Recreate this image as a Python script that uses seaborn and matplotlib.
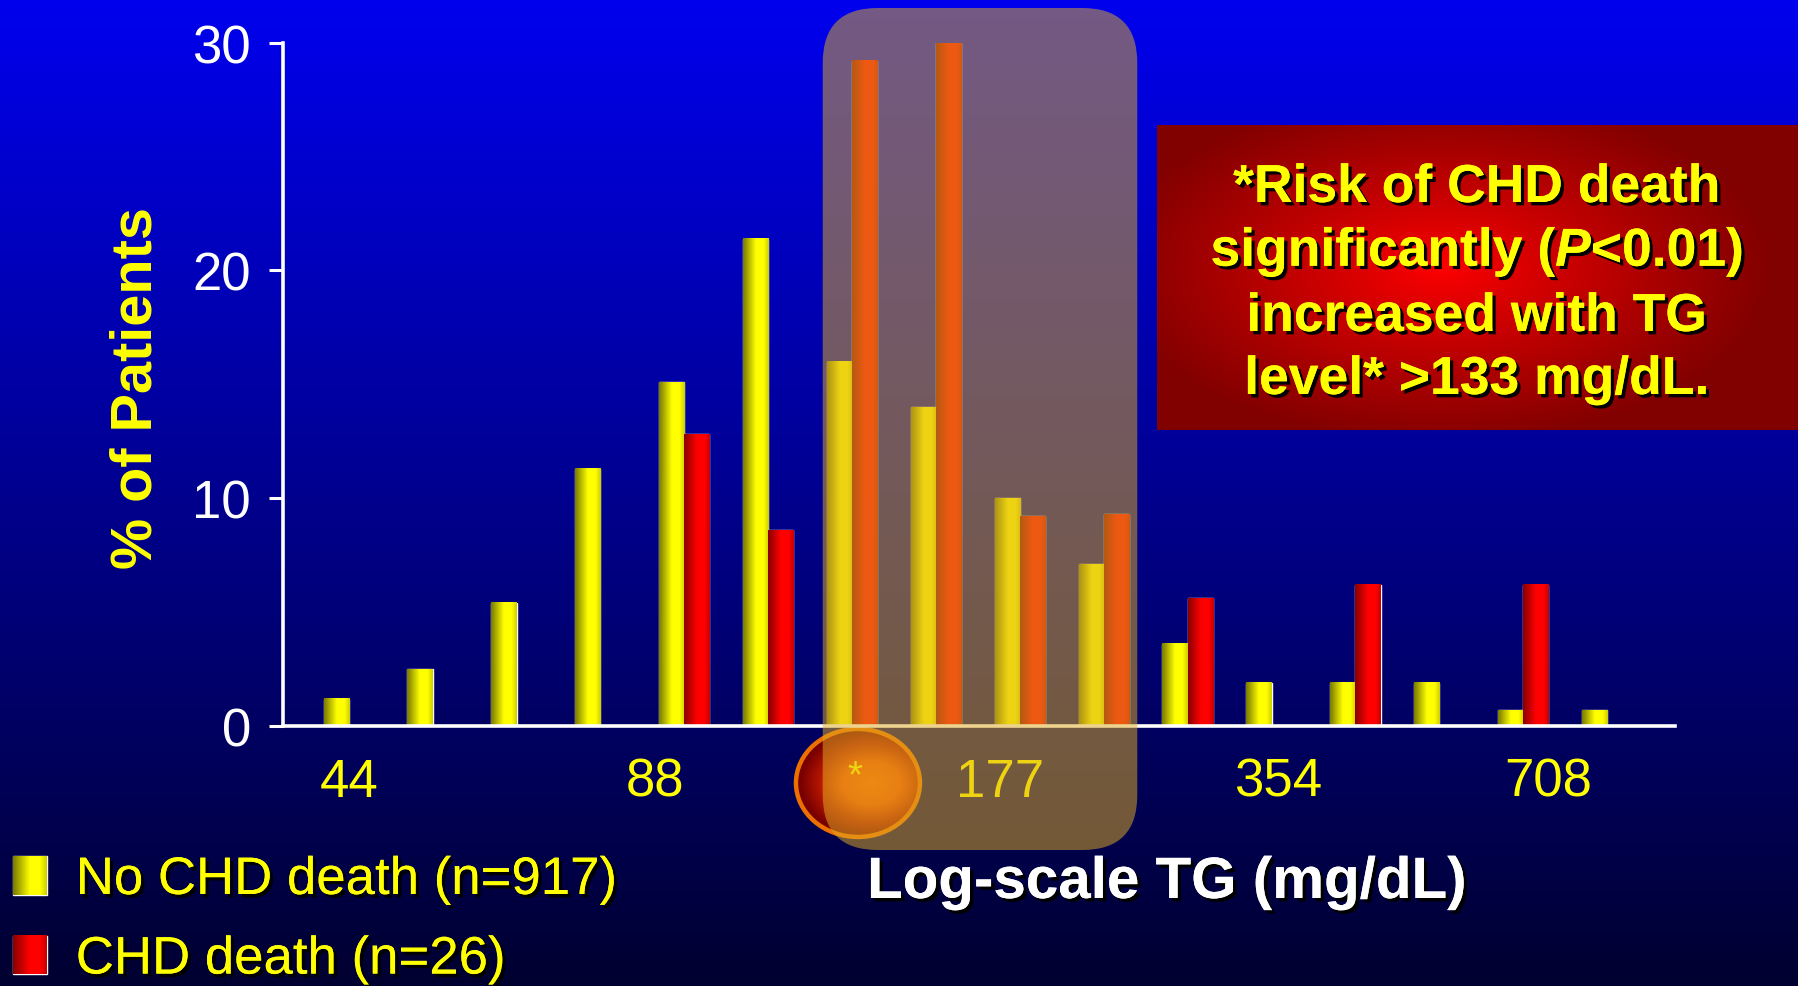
import numpy as np
import pandas as pd
import seaborn as sns
import matplotlib.pyplot as plt
import matplotlib.patheffects as pe
from matplotlib.patches import FancyBboxPatch, Ellipse
from matplotlib.colors import LinearSegmentedColormap

# ---------------------------------------------------------------- data
tg_bins = list(range(16))
no_chd_death = [1.2, 2.5, 5.4, 11.3, 15.1, 21.4, 16.0, 14.0, 10.0, 7.1, 3.6, 1.9, 1.9, 1.9, 0.7, 0.7]
chd_death = [0, 0, 0, 0, 12.8, 8.6, 29.2, 30.0, 9.2, 9.3, 5.6, 0, 6.2, 0, 6.2, 0]
series_labels = ["No CHD death (n=917)", "CHD death (n=26)"]
tick_labels = ["44", "88", "177", "354", "708"]
y_ticks = [0, 10, 20, 30]
highlight_bins = [6, 9]
note_lines = ["*Risk of CHD death",
              r"significantly ($\mathit{P}$<0.01)",
              "increased with TG",
              "level* >133 mg/dL."]

# ---------------------------------------------------------------- layout
W, H = 1799, 987
AX_L, AX_R, AX_B, AX_T = 283, 1675, 727, 43.6
XLIM = (-0.784, 15.81)
TICK_POS = [0.0, 3.65, 7.77, 11.08, 14.3]

sns.set_theme(style="ticks")
plt.rcParams["font.family"] = ["Liberation Sans", "DejaVu Sans"]
plt.rcParams["mathtext.fontset"] = "custom"
plt.rcParams["mathtext.it"] = "Liberation Sans:italic:bold"
plt.rcParams["mathtext.rm"] = "Liberation Sans:bold"

shadow = [pe.withSimplePatchShadow(offset=(2.4, -2.4), shadow_rgbFace="black", alpha=1.0),
          pe.Normal()]

fig = plt.figure(figsize=(W / 100, H / 100), dpi=100)
fig.patch.set_facecolor("#000030")

# vertical blue background
bg = fig.add_axes([0, 0, 1, 1], zorder=0)
t = np.linspace(0, 1, 256)[:, None, None]
top_c = np.array([0, 0, 238]) / 255
bot_c = np.array([0, 0, 48]) / 255
bg.imshow(top_c + (bot_c - top_c) * t, aspect="auto", extent=[0, 1, 0, 1], origin="upper")
bg.set_axis_off()

# main plotting axes
ax = fig.add_axes([AX_L / W, 1 - AX_B / H, (AX_R - AX_L) / W, (AX_B - AX_T) / H], zorder=1)
ax.set_facecolor("none")

df = pd.DataFrame({
    "bin": tg_bins * 2,
    "group": [series_labels[0]] * len(tg_bins) + [series_labels[1]] * len(tg_bins),
    "pct": no_chd_death + chd_death,
})
sns.barplot(data=df, x="bin", y="pct", hue="group", hue_order=series_labels,
            palette=["#FFFF00", "#FF0000"], width=0.6, gap=0, saturation=1,
            errorbar=None, ax=ax)

# cylinder-like shading on each bar
yellow_cmap = LinearSegmentedColormap.from_list(
    "yel", [(0, "#7A7A00"), (0.5, "#FFFF00"), (0.8, "#FFFF00"), (1, "#CFCF00")])
red_cmap = LinearSegmentedColormap.from_list(
    "red", [(0, "#8A0000"), (0.5, "#FF0000"), (0.8, "#FF0000"), (1, "#C80000")])
row = np.linspace(0, 1, 64)[None, :]
for bar in list(ax.patches):
    h = bar.get_height()
    if h <= 0:
        continue
    x0, w = bar.get_x(), bar.get_width()
    cmap = yellow_cmap if bar.get_facecolor()[1] > 0.5 else red_cmap
    ax.imshow(row, cmap=cmap, extent=[x0, x0 + w, 0, h], aspect="auto",
              interpolation="bilinear", zorder=1.2)

ax.set_xlim(*XLIM)
ax.set_ylim(0, 30)
px_x = (AX_R - AX_L) / (XLIM[1] - XLIM[0])
px_y = (AX_B - AX_T) / 30

# highlighted ellipse marker below the axis
ecx, ecy = 6.07, -2.5
ew, eh = 124 / px_x, 108 / px_y
ell = Ellipse((ecx, ecy), ew, eh, facecolor="none", edgecolor="#EC7000", lw=3.2,
              zorder=1.6, clip_on=False)
ax.add_patch(ell)
yy, xx = np.mgrid[-1:1:200j, -1:1:200j]
rr = np.clip(np.sqrt(((xx - 0.22) / 1.15) ** 2 + yy ** 2), 0, 1)
ell_cmap = LinearSegmentedColormap.from_list(
    "ell", [(0, "#FF6400"), (0.4, "#F25000"), (0.75, "#B01400"), (1, "#780000")])
eim = ax.imshow(rr, cmap=ell_cmap, vmin=0, vmax=1,
                extent=[ecx - ew / 2, ecx + ew / 2, ecy - eh / 2, ecy + eh / 2],
                aspect="auto", zorder=1.5, interpolation="bilinear")
eim.set_clip_box(fig.bbox)
eim.set_clip_path(ell)
ax.text(ecx - 0.03, ecy + 0.3, "*", color="#FFFF00", fontsize=28, ha="center",
        va="center", zorder=1.7, clip_on=False)

# translucent band over the highlighted bins
hx0 = highlight_bins[0] - 0.3 - 0.05
hx1 = highlight_bins[1] + 0.3 + 0.1
hy0 = -(851 - AX_B) / px_y
hy1 = 30 + (AX_T - 9) / px_y
band = FancyBboxPatch((hx0, hy0), hx1 - hx0, hy1 - hy0,
                      boxstyle=f"round,pad=0,rounding_size={55 / px_x:.4f}",
                      mutation_aspect=px_x / px_y,
                      facecolor=(222 / 255, 172 / 255, 36 / 255), alpha=0.52,
                      edgecolor="none", zorder=2, clip_on=False)
ax.add_patch(band)
ax.set_xlim(*XLIM)
ax.set_ylim(0, 30)

# axes styling
for s in ["top", "right"]:
    ax.spines[s].set_visible(False)
for s in ["left", "bottom"]:
    ax.spines[s].set_color("white")
    ax.spines[s].set_linewidth(2.6)
ax.spines["bottom"].set_zorder(1.8)
ax.set_yticks(y_ticks)
ax.tick_params(axis="y", length=10, width=2.2, colors="white", labelsize=38, pad=13)
ax.set_xticks(TICK_POS, tick_labels)
ax.tick_params(axis="x", length=0, labelcolor="#FFFF00", labelsize=38, pad=22)

ax.set_ylabel("% of Patients", color="#FFFF00", fontsize=41.5, fontweight="bold")
ax.yaxis.label.set_va("center")
ax.yaxis.set_label_coords((137 - AX_L) / (AX_R - AX_L), (AX_B - 388) / (AX_B - AX_T))
ax.set_xlabel("Log-scale TG (mg/dL)", color="white", fontsize=42, fontweight="bold",
              path_effects=shadow)
ax.xaxis.label.set_va("center")
ax.xaxis.set_label_coords((1167 - AX_L) / (AX_R - AX_L), (AX_B - 884) / (AX_B - AX_T))

# legend
sns.move_legend(ax, "upper left", bbox_to_anchor=(13 / W, 1 - 856 / H),
                bbox_transform=fig.transFigure, title=None, frameon=False,
                fontsize=38, handlelength=0.64, handleheight=0.74,
                handletextpad=0.55, labelspacing=0.56, borderpad=0, borderaxespad=0)
leg = ax.get_legend()
for txt in leg.get_texts():
    txt.set_color("#FFFF00")
    txt.set_path_effects(shadow)

# overlay axes in pixel units for the note box
ov = fig.add_axes([0, 0, 1, 1], zorder=3)
ov.set_facecolor("none")
ov.set_axis_off()

bx0, bx1, by0, by1 = 1157, W, 126, 431
gy, gx = np.mgrid[by0:by1:1.0, bx0:bx1:1.0]
d = np.sqrt(((gx - 1440) / 330) ** 2 + ((gy - 268) / 175) ** 2)
d = np.clip(d, 0, 1)
red_lvl = 255 - 125 * d ** 0.9
box_rgb = np.dstack([red_lvl / 255, np.zeros_like(d), np.zeros_like(d)])
ov.imshow(box_rgb, extent=[bx0, bx1, by1, by0], aspect="auto", origin="upper",
          interpolation="bilinear")
for line, base in zip(note_lines, [203, 267, 332, 395]):
    ov.text(1477, base, line, ha="center", va="baseline", fontsize=38.5,
            fontweight="bold", color="#FFFF00", path_effects=shadow)
ov.set_xlim(0, W)
ov.set_ylim(H, 0)

# shaded legend swatches
fig.canvas.draw()
for handle, cmap in zip(leg.legend_handles, [yellow_cmap, red_cmap]):
    bb = handle.get_window_extent()
    ov.imshow(row, cmap=cmap, extent=[bb.x0, bb.x1, H - bb.y0, H - bb.y1],
              aspect="auto", interpolation="bilinear", zorder=5)
ov.set_xlim(0, W)
ov.set_ylim(H, 0)

fig.savefig("out.png", dpi=100, facecolor=fig.get_facecolor())
